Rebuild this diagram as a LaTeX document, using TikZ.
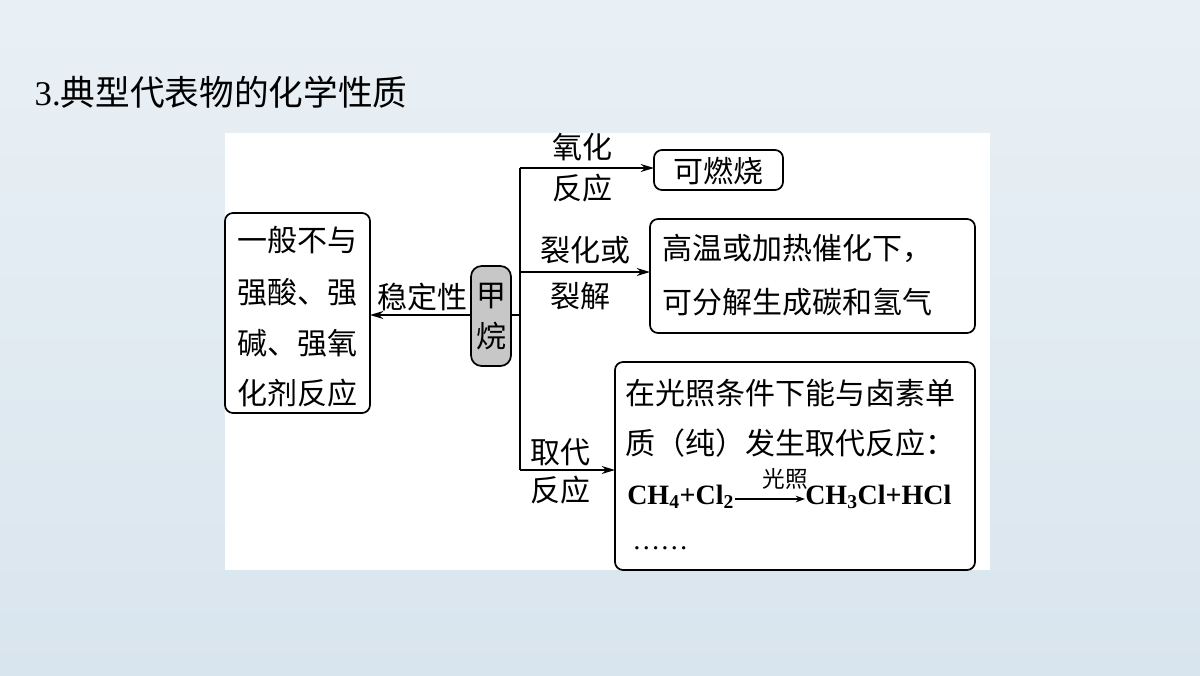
\documentclass[tikz,border=0pt]{standalone}
\usepackage{fontspec}
\usepackage{amsmath}
\setmainfont{Liberation Serif}
\newfontfamily\cjk{Noto Sans CJK SC}
\usetikzlibrary{arrows.meta}
\definecolor{bgA}{HTML}{E9F0F5}
\definecolor{bgB}{HTML}{D9E5EE}
\begin{document}
\begin{tikzpicture}[x=0.75pt,y=-0.75pt,
  every node/.style={font=\cjk\fontsize{22.5}{26}\selectfont},
  bx/.style={draw,line width=1.3pt,rounded corners=6pt},
  ln/.style={line width=1.1pt},
  ar/.style={ln,-{Stealth[length=10pt,width=6pt]}},
  lab/.style={inner sep=0pt}]
\shade[top color=bgA,bottom color=bgB] (0,0) rectangle (1200,675);
\useasboundingbox (0,0) rectangle (1200,675);
\fill[white] (225,133) rectangle (990,570);
\node[anchor=west,font=\fontsize{26}{30}\selectfont] (title) at (30,92) {3.{\cjk 典型代表物的化学性质}};
% left box
\draw[bx] (225,213) rectangle (370,413);
\node[lab] (l1) at (297.5,240) {一般不与};
\node[lab] (l2) at (297.5,292) {强酸、强};
\node[lab] (l3) at (297.5,343) {碱、强氧};
\node[lab] (l4) at (297.5,393) {化剂反应};
\coordinate (Lr) at (370,315);
% methane
\draw[bx,fill=black!22,rounded corners=8pt] (471,266) rectangle (511,366);
\node[lab] (m1) at (491,296) {甲};
\node[lab] (m2) at (491,336) {烷};
\coordinate (Ml) at (471,315);
\coordinate (Mr) at (511,315);
\draw[ar] (Ml) -- (Lr);
\node[lab] (s) at (422,297) {稳定性};
% trunk
\coordinate (T) at (520,315);
\coordinate (T1) at (520,168);
\coordinate (T2) at (520,272);
\coordinate (T3) at (520,470);
\draw[ln] (Mr) -- (T);
\draw[ln] (T1) -- (T3);
% box1
\draw[bx] (654,150) rectangle (783,190);
\node[lab] (b1) at (718.5,171) {可燃烧};
\draw[ar] (T1) -- (654,168);
\node[lab] (o1) at (582,147) {氧化};
\node[lab] (o2) at (582,188) {反应};
% box2
\draw[bx] (650,219) rectangle (975,333);
\node[lab,anchor=west] (b21) at (662,248) {高温或加热催化下，};
\node[lab,anchor=west] (b22) at (662,302) {可分解生成碳和氢气};
\draw[ar] (T2) -- (650,272);
\node[lab] (c1) at (585,250) {裂化或};
\node[lab] (c2) at (580,296) {裂解};
% box3
\draw[bx] (615,362) rectangle (975,570);
\node[lab,anchor=west] (b31) at (625,393) {在光照条件下能与卤素单};
\node[lab,anchor=west] (b32) at (625,443) {质（纯）发生取代反应：};
\node[lab,anchor=west,font=\bfseries\fontsize{21}{26}\selectfont] (b33) at (627,497) {CH\textsubscript{4}+Cl\textsubscript{2}};
\node[lab,anchor=west,font=\bfseries\fontsize{21}{26}\selectfont] (b35) at (805,497) {CH\textsubscript{3}Cl+HCl};
\draw[ln,-{Stealth[length=7pt,width=5pt]}] (b33.east) ++(1,2) coordinate (fa) -- (b35.west |- fa);
\node[lab,font=\cjk\fontsize{17}{20}\selectfont] (gz) at (785,479) {光照};
\node[lab,anchor=west,font=\fontsize{21}{26}\selectfont] (b34) at (632,548) {……};
\draw[ar] (T3) -- (615,470);
\node[lab] (q1) at (560,452) {取代};
\node[lab] (q2) at (560,490) {反应};
\end{tikzpicture}
\end{document}
